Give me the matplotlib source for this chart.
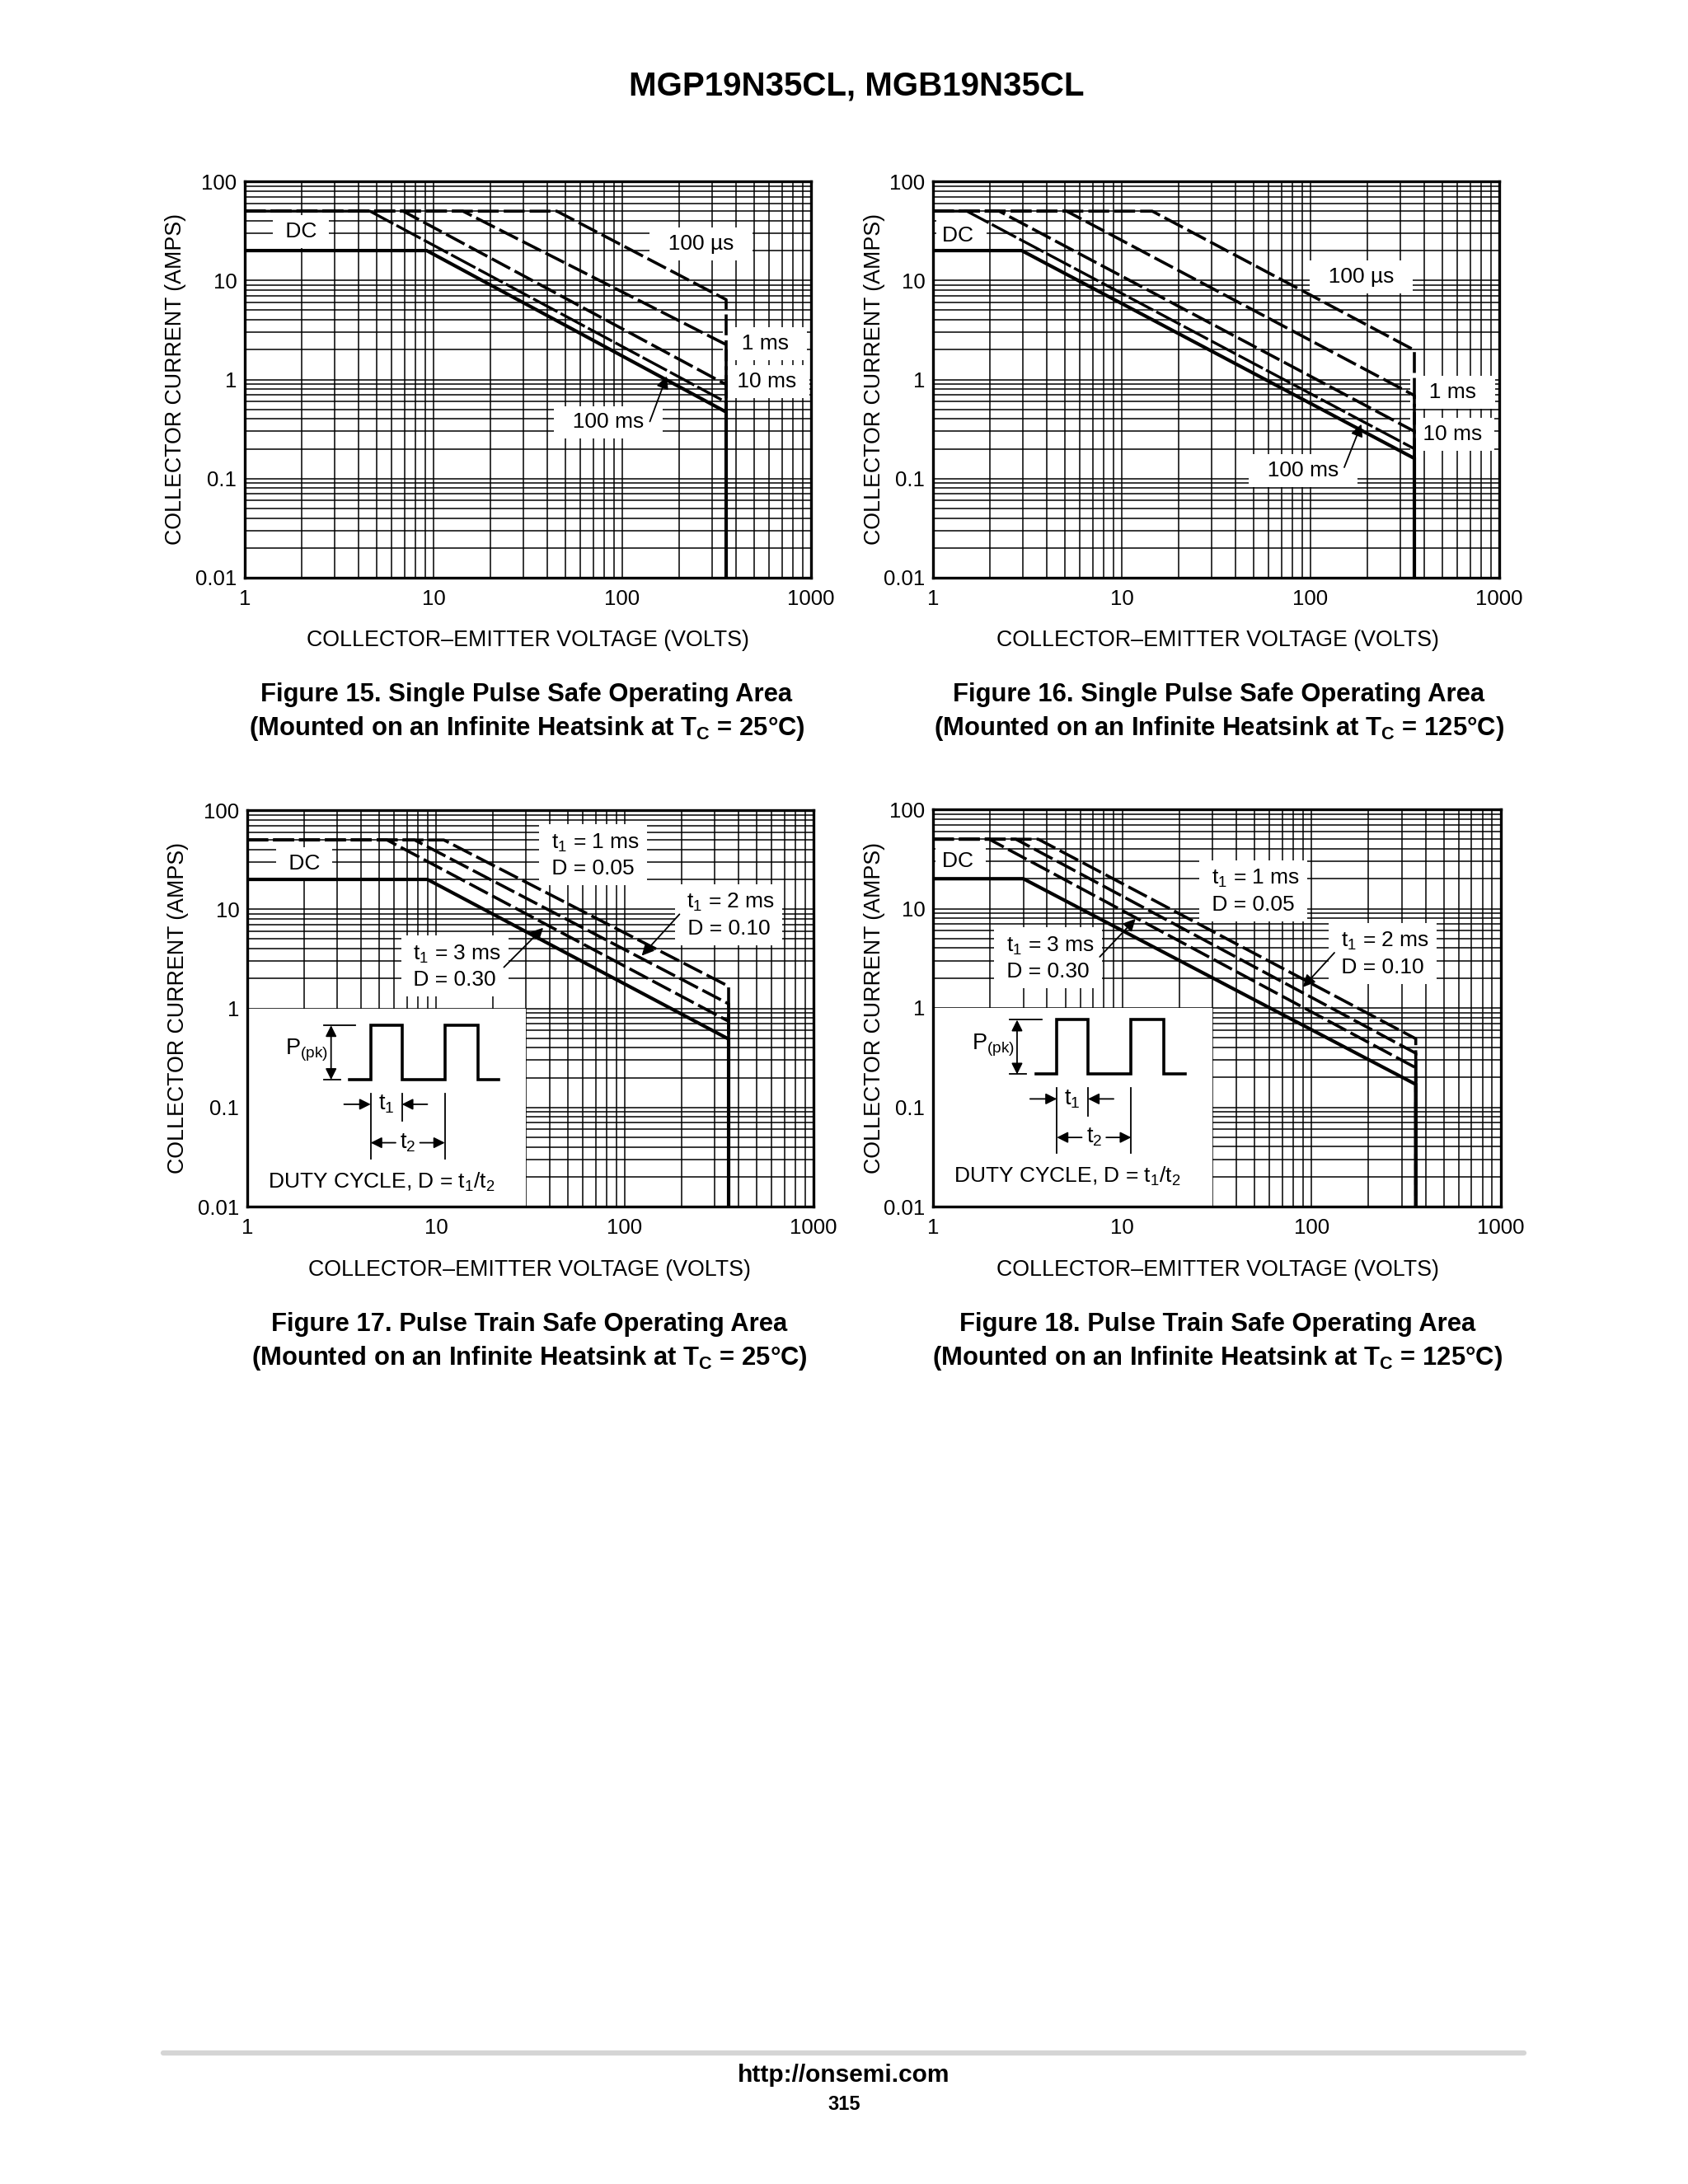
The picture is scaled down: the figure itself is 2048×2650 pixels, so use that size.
import numpy as np
import matplotlib
matplotlib.use('Agg')
import matplotlib.pyplot as plt
from matplotlib.ticker import LogLocator, FixedLocator, FixedFormatter, NullFormatter
from matplotlib.patches import Rectangle
from matplotlib.lines import Line2D

plt.rcParams['font.family'] = ['Liberation Sans', 'DejaVu Sans']
plt.rcParams['mathtext.fontset'] = 'custom'
plt.rcParams['mathtext.rm'] = 'Liberation Sans'
plt.rcParams['mathtext.it'] = 'Liberation Sans:italic'
plt.rcParams['mathtext.bf'] = 'Liberation Sans:bold'

# ---------------- data ----------------
x_ticks = [1, 10, 100, 1000]
x_tick_labels = ["1", "10", "100", "1000"]
y_ticks = [0.01, 0.1, 1, 10, 100]
y_tick_labels = ["0.01", "0.1", "1", "10", "100"]

# Figure 15: single pulse, Tc = 25 C
fig15_v_100us = [1, 45, 355, 355]
fig15_i_100us = [50, 50, 6.4, 0.01]
fig15_v_1ms = [1, 14.3, 355, 355]
fig15_i_1ms = [50, 50, 2.25, 0.01]
fig15_v_10ms = [1, 6.9, 355, 355]
fig15_i_10ms = [50, 50, 0.89, 0.01]
fig15_v_100ms = [1, 4.6, 355, 355]
fig15_i_100ms = [50, 50, 0.59, 0.01]
fig15_v_dc = [1, 9.2, 355, 355]
fig15_i_dc = [20, 20, 0.47, 0.01]

# Figure 16: single pulse, Tc = 125 C
fig16_v_100us = [1, 14.5, 355, 355]
fig16_i_100us = [50, 50, 1.98, 0.01]
fig16_v_1ms = [1, 5.1, 355, 355]
fig16_i_1ms = [50, 50, 0.69, 0.01]
fig16_v_10ms = [1, 2.24, 355, 355]
fig16_i_10ms = [50, 50, 0.30, 0.01]
fig16_v_100ms = [1, 1.51, 355, 355]
fig16_i_100ms = [50, 50, 0.20, 0.01]
fig16_v_dc = [1, 2.95, 355, 355]
fig16_i_dc = [20, 20, 0.16, 0.01]

# Figure 17: pulse train, Tc = 25 C
fig17_v_1ms = [1, 11, 355, 355]
fig17_i_1ms = [50, 50, 1.67, 0.01]
fig17_v_2ms = [1, 7.7, 355, 355]
fig17_i_2ms = [50, 50, 1.11, 0.01]
fig17_v_3ms = [1, 5.5, 355, 355]
fig17_i_3ms = [50, 50, 0.74, 0.01]
fig17_v_dc = [1, 9.0, 355, 355]
fig17_i_dc = [20, 20, 0.49, 0.01]

# Figure 18: pulse train, Tc = 125 C
fig18_v_1ms = [1, 3.6, 355, 355]
fig18_i_1ms = [50, 50, 0.49, 0.01]
fig18_v_2ms = [1, 2.74, 355, 355]
fig18_i_2ms = [50, 50, 0.35, 0.01]
fig18_v_3ms = [1, 1.98, 355, 355]
fig18_i_3ms = [50, 50, 0.25, 0.01]
fig18_v_dc = [1, 3.0, 355, 355]
fig18_i_dc = [20, 20, 0.17, 0.01]

# ---------------- figure ----------------
W, H = 2048, 2650
fig = plt.figure(figsize=(W / 100, H / 100), dpi=100)
fig.patch.set_facecolor('white')


def add_ax(l, t, r, b):
    return fig.add_axes([l / W, 1 - b / H, (r - l) / W, (b - t) / H])


def setup(ax):
    ax.set_xscale('log')
    ax.set_yscale('log')
    ax.set_xlim(1, 1000)
    ax.set_ylim(0.01, 100)
    ax.xaxis.set_major_locator(FixedLocator(x_ticks))
    ax.xaxis.set_major_formatter(FixedFormatter(x_tick_labels))
    ax.yaxis.set_major_locator(FixedLocator(y_ticks))
    ax.yaxis.set_major_formatter(FixedFormatter(y_tick_labels))
    ax.xaxis.set_minor_locator(LogLocator(10, subs=np.arange(2, 10), numticks=50))
    ax.yaxis.set_minor_locator(LogLocator(10, subs=np.arange(2, 10), numticks=50))
    ax.xaxis.set_minor_formatter(NullFormatter())
    ax.yaxis.set_minor_formatter(NullFormatter())
    ax.set_axisbelow(True)
    ax.grid(which='both', color='black', lw=1.1)
    ax.tick_params(which='both', length=0)
    ax.tick_params(axis='x', labelsize=18.5, pad=10)
    ax.tick_params(axis='y', labelsize=18.5, pad=7)
    for s in ax.spines.values():
        s.set_linewidth(2.4)
        s.set_zorder(6)


DASH = dict(color='black', lw=2.6, dashes=(7, 1.7), zorder=4)
LONGDASH = dict(color='black', lw=2.4, dashes=(10, 1.3), zorder=4)
SOLID = dict(color='black', lw=3.0, zorder=5, solid_joinstyle='miter')
BOX = dict(boxstyle='square,pad=0.3', fc='white', ec='none')


def label(ax, x, y, s, **kw):
    ax.text(x, y, s, ha='center', va='center', fontsize=19, bbox=BOX,
            zorder=3, linespacing=1.35, **kw)


def arrow(ax, xy, xytext):
    ax.annotate('', xy=xy, xytext=xytext, zorder=7,
                arrowprops=dict(arrowstyle='-|>', color='black', lw=1.3,
                                mutation_scale=22, shrinkA=0, shrinkB=0))


# ---------- Figure 15 ----------
ax1 = add_ax(297, 220, 984, 701)
setup(ax1)
ax1.plot(fig15_v_100us, fig15_i_100us, **DASH)
ax1.plot(fig15_v_1ms, fig15_i_1ms, **DASH)
ax1.plot(fig15_v_10ms, fig15_i_10ms, **DASH)
ax1.plot(fig15_v_100ms, fig15_i_100ms, **LONGDASH)
ax1.plot(fig15_v_dc, fig15_i_dc, **SOLID)
label(ax1, 1.98, 31, " DC ")
label(ax1, 261, 23.5, "  100 µs  ")
label(ax1, 570, 2.3, "  1 ms  ")
label(ax1, 583, 0.95, " 10 ms ")
label(ax1, 84, 0.37, "  100 ms  ")
arrow(ax1, (172, 1.08), (140, 0.377))

# ---------- Figure 16 ----------
ax2 = add_ax(1132, 220, 1819, 701)
setup(ax2)
ax2.plot(fig16_v_100us, fig16_i_100us, **DASH)
ax2.plot(fig16_v_1ms, fig16_i_1ms, **DASH)
ax2.plot(fig16_v_10ms, fig16_i_10ms, **DASH)
ax2.plot(fig16_v_100ms, fig16_i_100ms, **LONGDASH)
ax2.plot(fig16_v_dc, fig16_i_dc, **SOLID)
label(ax2, 1.41, 28.3, "DC ")
label(ax2, 186, 10.9, "  100 µs  ")
label(ax2, 565, 0.74, "  1 ms  ")
label(ax2, 565, 0.28, " 10 ms ")
label(ax2, 91, 0.12, "  100 ms  ")
arrow(ax2, (186, 0.355), (151, 0.13))


def inset(ax, dy):
    ax.add_patch(Rectangle((1, 0.01), 29, 0.99, fc='white', ec='none', zorder=2))
    T = ax.transAxes
    b, t = 0.320 + dy, 0.457 + dy
    xs = [0.181, 0.218, 0.218, 0.273, 0.273, 0.349, 0.349, 0.407, 0.407, 0.444]
    ys = [b, b, t, t, b, b, t, t, b, b]
    ax.plot(xs, ys, transform=T, color='black', lw=2.6, zorder=5,
            solid_joinstyle='miter')
    ax.plot([0.135, 0.191], [t, t], transform=T, color='black', lw=1.3, zorder=5)
    ax.plot([0.135, 0.164], [b, b], transform=T, color='black', lw=1.3, zorder=5)
    ax.annotate('', xy=(0.148, t), xytext=(0.148, b), xycoords=T, textcoords=T,
                zorder=7, arrowprops=dict(arrowstyle='<|-|>', color='black', lw=1.3,
                                          mutation_scale=20, shrinkA=0, shrinkB=0))
    ax.text(0.143, (t + b) / 2 + 0.005, r"P$_{\mathrm{(pk)}}$", transform=T,
            ha='right', va='center', fontsize=19.5, zorder=6)
    y1, y2 = 0.258 + dy, 0.161 + dy
    ax.plot([0.218, 0.218], [b - 0.035, y2 - 0.04], transform=T, color='black', lw=1.3, zorder=5)
    ax.plot([0.273, 0.273], [b - 0.035, y1 - 0.042], transform=T, color='black', lw=1.3, zorder=5)
    ax.plot([0.349, 0.349], [b - 0.035, y2 - 0.04], transform=T, color='black', lw=1.3, zorder=5)
    for xa, xb, yy in [(0.171, 0.218, y1), (0.318, 0.273, y1),
                       (0.262, 0.218, y2), (0.305, 0.349, y2)]:
        ax.annotate('', xy=(xb, yy), xytext=(xa, yy), xycoords=T, textcoords=T,
                    zorder=7, arrowprops=dict(arrowstyle='-|>', color='black', lw=1.3,
                                              mutation_scale=20, shrinkA=0, shrinkB=0))
    ax.text(0.245, y1, r"t$_{\mathrm{1}}$", transform=T, ha='center', va='center',
            fontsize=19.5, zorder=6)
    ax.text(0.2835, y2, r"t$_{\mathrm{2}}$", transform=T, ha='center', va='center',
            fontsize=19.5, zorder=6)
    ax.text(0.036, 0.062 + dy, r"DUTY CYCLE, D = t$_{\mathrm{1}}$/t$_{\mathrm{2}}$",
            transform=T, ha='left', va='center', fontsize=19, zorder=6)


# ---------- Figure 17 ----------
ax3 = add_ax(300, 983, 987, 1464)
setup(ax3)
inset(ax3, 0.0)
ax3.plot(fig17_v_1ms, fig17_i_1ms, **DASH)
ax3.plot(fig17_v_2ms, fig17_i_2ms, **DASH)
ax3.plot(fig17_v_3ms, fig17_i_3ms, **DASH)
ax3.plot(fig17_v_dc, fig17_i_dc, **SOLID)
label(ax3, 2.0, 29, " DC ")
label(ax3, 68, 35, " t$_{\\mathrm{1}}$ = 1 ms \n D = 0.05 ")
label(ax3, 355, 8.7, " t$_{\\mathrm{1}}$ = 2 ms \n D = 0.10 ")
label(ax3, 12.6, 2.63, " t$_{\\mathrm{1}}$ = 3 ms \n D = 0.30 ")
arrow(ax3, (123, 3.4), (195, 8.9))
arrow(ax3, (37, 6.5), (22.9, 2.6))

# ---------- Figure 18 ----------
ax4 = add_ax(1132, 982, 1821, 1464)
setup(ax4)
inset(ax4, 0.013)
ax4.plot(fig18_v_1ms, fig18_i_1ms, **DASH)
ax4.plot(fig18_v_2ms, fig18_i_2ms, **DASH)
ax4.plot(fig18_v_3ms, fig18_i_3ms, **DASH)
ax4.plot(fig18_v_dc, fig18_i_dc, **SOLID)
label(ax4, 1.40, 30, "DC ")
label(ax4, 49, 15, " t$_{\\mathrm{1}}$ = 1 ms \n D = 0.05 ")
label(ax4, 238, 3.5, " t$_{\\mathrm{1}}$ = 2 ms \n D = 0.10 ")
label(ax4, 4.06, 3.16, " t$_{\\mathrm{1}}$ = 3 ms \n D = 0.30 ")
arrow(ax4, (90, 1.62), (132, 3.6))
arrow(ax4, (11.75, 7.9), (7.6, 3.27))

# ---------- page texts ----------
def ftext(x, y, s, **kw):
    fig.text(x / W, 1 - y / H, s, ha='center', va='center', **kw)


ftext(1039, 104, "MGP19N35CL, MGB19N35CL", fontsize=29, weight='bold')

ylab = "COLLECTOR CURRENT (AMPS)"
xlab = "COLLECTOR\u2013EMITTER VOLTAGE (VOLTS)"
for x, y in [(213, 460), (1061, 460), (216, 1223), (1061, 1223)]:
    ftext(x, y, ylab, fontsize=19.3, rotation=90)
for x, y in [(640, 777), (1477, 777), (642, 1541), (1477, 1541)]:
    ftext(x, y, xlab, fontsize=19.3)

caps = [
    (639, "Figure 15. Single Pulse Safe Operating Area",
     r"(Mounted on an Infinite Heatsink at T$_\mathbf{C}$ = 25°C)", 843, 884),
    (1479, "Figure 16. Single Pulse Safe Operating Area",
     r"(Mounted on an Infinite Heatsink at T$_\mathbf{C}$ = 125°C)", 843, 884),
    (642, "Figure 17. Pulse Train Safe Operating Area",
     r"(Mounted on an Infinite Heatsink at T$_\mathbf{C}$ = 25°C)", 1607, 1648),
    (1477, "Figure 18. Pulse Train Safe Operating Area",
     r"(Mounted on an Infinite Heatsink at T$_\mathbf{C}$ = 125°C)", 1607, 1648),
]
for x, l1, l2, y1, y2 in caps:
    ftext(x, y1, l1, fontsize=22.3, weight='bold')
    ftext(x, y2, l2, fontsize=22.3, weight='bold')

fig.add_artist(Line2D([198 / W, 1849 / W], [1 - 2491 / H, 1 - 2491 / H],
                      color='#d5d5d5', lw=4.5, solid_capstyle='round'))
ftext(1024, 2518, "http://onsemi.com", fontsize=21.5, weight='bold')
ftext(1024, 2553, "315", fontsize=17, weight='bold')

fig.savefig('out.png', dpi=100, facecolor='white')
